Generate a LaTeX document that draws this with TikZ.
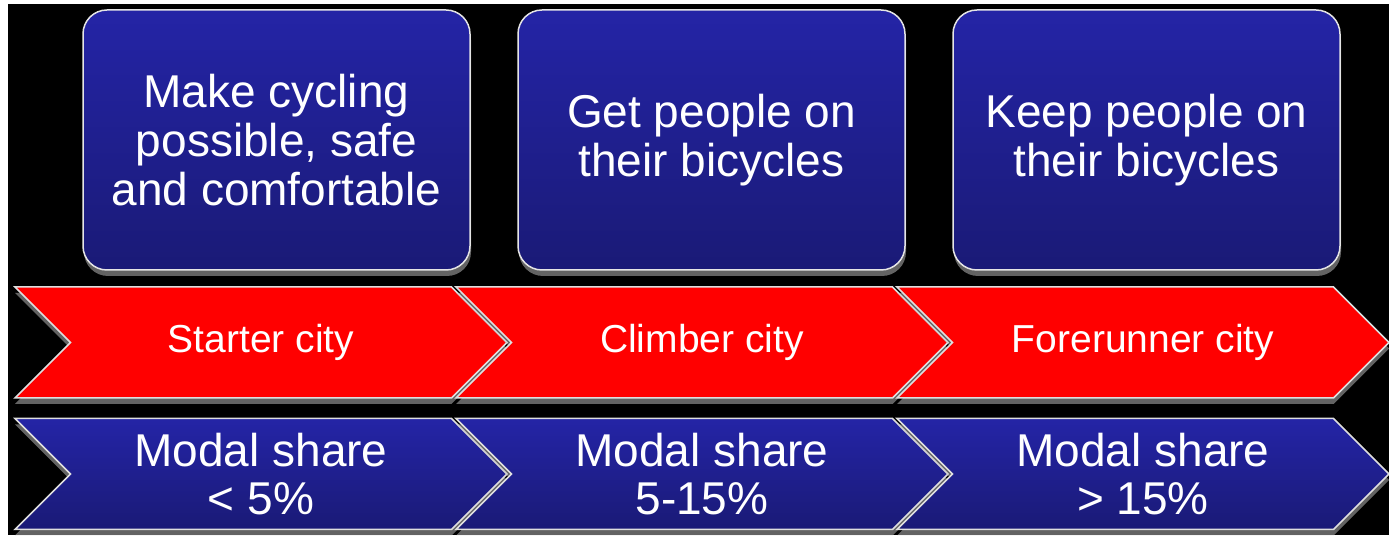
\documentclass[tikz,border=0pt]{standalone}
\usepackage{fontspec}
\setmainfont{Liberation Sans}
\usetikzlibrary{positioning,shapes.symbols,shadows}
\definecolor{cityblue}{RGB}{36,36,166}
\definecolor{cityblue dark}{RGB}{26,26,118}
\definecolor{cityred}{RGB}{255,0,0}
\tikzset{
    % rounded boxes on top
    goal/.style={
           rounded corners=24pt,
           draw=gray!20,
           line width=1.5pt,
           top color=cityblue,
           bottom color=cityblue dark,
           minimum width=387pt,
           minimum height=260pt,
           align=center,
           text=white,
           font=\fontsize{46}{49}\selectfont,
           drop shadow={shadow xshift=1pt, shadow yshift=-6pt, fill=gray!45}},
    % chevrons
    stage/.style={
           signal,
           signal to=east,
           signal from=west,
           draw=gray!25,
           line width=1.5pt,
           fill=cityred,
           minimum width=492pt,
           minimum height=111pt,
           text=white,
           font=\fontsize{39}{44}\selectfont,
           drop shadow={shadow xshift=0pt, shadow yshift=-6pt, fill=gray!45}},
    share/.style={
           stage,
           top color=cityblue,
           bottom color=cityblue dark,
           align=center,
           font=\fontsize{46}{48}\selectfont}
}
\begin{document}
\begin{tikzpicture}[x=1pt, y=1pt, node distance=441pt, on grid]
    \useasboundingbox (0,0) rectangle (1389,540);
    \fill[black] (8,5) rectangle (1389,536);

    % top boxes
    \node[goal] (possible) at (276.5,400) {Make cycling\\possible, safe\\and comfortable};
    \node[goal, right=435pt of possible] (geton) {Get people on\\their bicycles};
    \node[goal, right=435pt of geton] (keepon) {Keep people on\\their bicycles};

    % red chevrons
    \node[stage] (starter) at (261,197.5) {Starter city};
    \node[stage, right of= starter] (climber) {Climber city};
    \node[stage, right of= climber] (forerunner) {Forerunner city};

    % blue chevrons
    \node[share, below=131.5pt of starter] (low) {Modal share\\< 5\%};
    \node[share, right of= low] (mid) {Modal share\\5-15\%};
    \node[share, right of= mid] (high) {Modal share\\> 15\%};
\end{tikzpicture}
\end{document}
